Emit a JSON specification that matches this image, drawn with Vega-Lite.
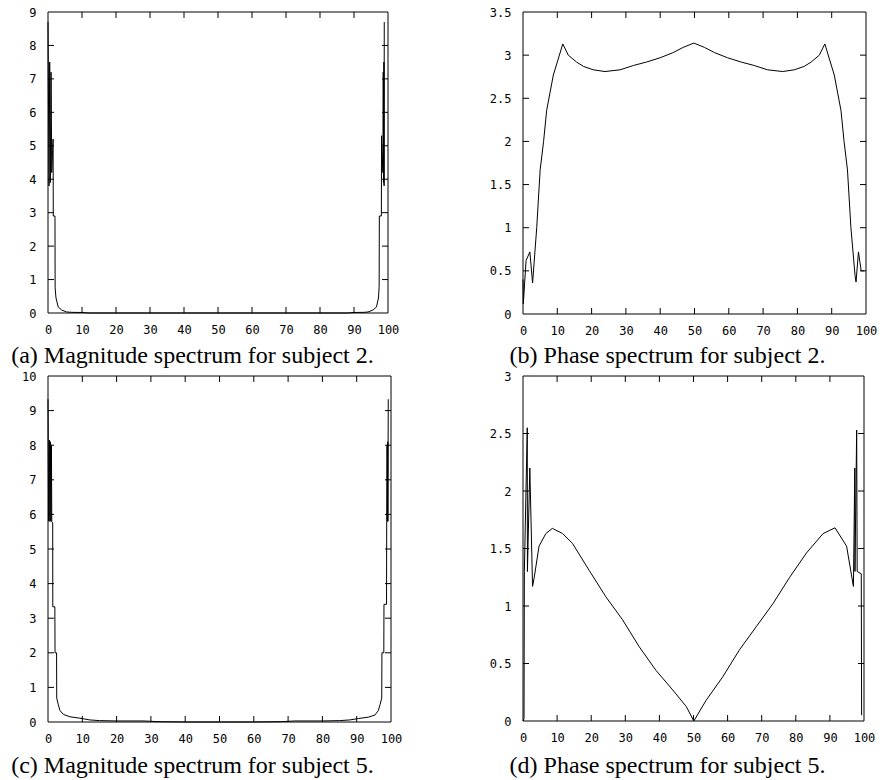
{
  "$schema": "https://vega.github.io/schema/vega-lite/v6.json",
  "autosize": {"type": "none"},
  "padding": {"left": 48, "top": 12, "right": 835, "bottom": 768},
  "background": "white",
  "columns": 2,
  "align": "each",
  "bounds": "flush",
  "spacing": {"row": 62, "column": 132},
  "datasets": {
    "a": [
      {"x": 0, "y": 8.7}, {"x": 0.3, "y": 3.8}, {"x": 0.5, "y": 7.5}, {"x": 0.7, "y": 3.9}, {"x": 0.9, "y": 7.2}, {"x": 1.1, "y": 4.2},
      {"x": 1.5, "y": 5.2}, {"x": 1.55, "y": 2.9}, {"x": 2.05, "y": 2.9}, {"x": 2.1, "y": 0.75}, {"x": 2.35, "y": 0.45}, {"x": 3.0, "y": 0.18},
      {"x": 4.0, "y": 0.09}, {"x": 5.5, "y": 0.03}, {"x": 7, "y": 0.02}, {"x": 10, "y": 0.015}, {"x": 12, "y": 0}, {"x": 20, "y": 0},
      {"x": 30, "y": 0}, {"x": 40, "y": 0}, {"x": 50, "y": 0}, {"x": 60, "y": 0}, {"x": 70, "y": 0}, {"x": 80, "y": 0}, {"x": 88, "y": 0},
      {"x": 90, "y": 0.015}, {"x": 93, "y": 0.02}, {"x": 94.1, "y": 0.03}, {"x": 95.6, "y": 0.09}, {"x": 96.6, "y": 0.18}, {"x": 97.2, "y": 0.45},
      {"x": 97.4, "y": 0.8}, {"x": 97.45, "y": 2.9}, {"x": 98.05, "y": 2.9}, {"x": 98.1, "y": 5.3}, {"x": 98.5, "y": 4.2}, {"x": 98.6, "y": 7.2},
      {"x": 98.7, "y": 3.9}, {"x": 98.8, "y": 7.5}, {"x": 98.85, "y": 3.8}, {"x": 98.9, "y": 8.7}
    ],
    "b": [
      {"x": 0, "y": 0.4}, {"x": 0.1, "y": 0.12}, {"x": 0.9, "y": 0.62}, {"x": 2.0, "y": 0.72}, {"x": 2.8, "y": 0.36}, {"x": 4.0, "y": 1.0},
      {"x": 5.0, "y": 1.67}, {"x": 6.0, "y": 2.0}, {"x": 6.9, "y": 2.36}, {"x": 8.85, "y": 2.77}, {"x": 11.6, "y": 3.13}, {"x": 13.2, "y": 3.0},
      {"x": 15.6, "y": 2.92}, {"x": 17.6, "y": 2.87}, {"x": 20.5, "y": 2.83}, {"x": 23.9, "y": 2.81}, {"x": 28.3, "y": 2.83}, {"x": 32.2, "y": 2.88},
      {"x": 36, "y": 2.92}, {"x": 40, "y": 2.97}, {"x": 43.8, "y": 3.03}, {"x": 46.7, "y": 3.09}, {"x": 49.8, "y": 3.14},
      {"x": 52.9, "y": 3.09}, {"x": 55.8, "y": 3.03}, {"x": 59.6, "y": 2.97}, {"x": 63.6, "y": 2.92}, {"x": 67.4, "y": 2.88}, {"x": 71.3, "y": 2.83},
      {"x": 75.7, "y": 2.81}, {"x": 79.1, "y": 2.83}, {"x": 82, "y": 2.87}, {"x": 84, "y": 2.92}, {"x": 86.4, "y": 3.0}, {"x": 88, "y": 3.13},
      {"x": 90.75, "y": 2.77}, {"x": 92.7, "y": 2.36}, {"x": 93.6, "y": 2.0}, {"x": 94.6, "y": 1.67}, {"x": 95.6, "y": 1.0}, {"x": 96.8, "y": 0.45},
      {"x": 97.1, "y": 0.37}, {"x": 97.8, "y": 0.72}, {"x": 98.6, "y": 0.5}, {"x": 99.5, "y": 0.5}
    ],
    "c": [
      {"x": 0, "y": 9.33}, {"x": 0.2, "y": 5.8}, {"x": 0.4, "y": 8.15}, {"x": 0.55, "y": 5.8}, {"x": 0.7, "y": 8.1}, {"x": 0.85, "y": 5.8},
      {"x": 1.0, "y": 8.0}, {"x": 1.1, "y": 5.79}, {"x": 1.37, "y": 5.75}, {"x": 1.4, "y": 3.33}, {"x": 2.0, "y": 3.33}, {"x": 2.05, "y": 2.0},
      {"x": 2.5, "y": 2.0}, {"x": 2.55, "y": 0.69}, {"x": 3.0, "y": 0.5}, {"x": 3.5, "y": 0.33}, {"x": 4.5, "y": 0.22}, {"x": 6.4, "y": 0.15},
      {"x": 9.3, "y": 0.11}, {"x": 12.2, "y": 0.06}, {"x": 15, "y": 0.04}, {"x": 20, "y": 0.03}, {"x": 28, "y": 0.03}, {"x": 32, "y": 0.01},
      {"x": 40, "y": 0}, {"x": 50, "y": 0}, {"x": 60, "y": 0}, {"x": 68, "y": 0.01}, {"x": 72, "y": 0.03}, {"x": 80, "y": 0.03},
      {"x": 85, "y": 0.04}, {"x": 88, "y": 0.06}, {"x": 90.5, "y": 0.1}, {"x": 93.4, "y": 0.14}, {"x": 95.3, "y": 0.2}, {"x": 96.3, "y": 0.33},
      {"x": 96.8, "y": 0.5}, {"x": 97.3, "y": 0.69}, {"x": 97.35, "y": 2.0}, {"x": 97.9, "y": 2.0}, {"x": 97.95, "y": 3.4}, {"x": 98.7, "y": 3.4},
      {"x": 98.75, "y": 5.8}, {"x": 98.85, "y": 8.0}, {"x": 98.95, "y": 5.8}, {"x": 99.05, "y": 8.1}, {"x": 99.1, "y": 5.8}, {"x": 99.2, "y": 9.33}
    ],
    "d": [
      {"x": 0, "y": 0}, {"x": 0.3, "y": 0.02}, {"x": 0.4, "y": 1.3}, {"x": 1.25, "y": 2.55}, {"x": 1.3, "y": 1.3}, {"x": 2.0, "y": 2.2},
      {"x": 2.8, "y": 1.17}, {"x": 3.3, "y": 1.25}, {"x": 4.7, "y": 1.52}, {"x": 6.7, "y": 1.63}, {"x": 8.6, "y": 1.675}, {"x": 11.6, "y": 1.63},
      {"x": 14.5, "y": 1.545}, {"x": 19.4, "y": 1.31}, {"x": 24.3, "y": 1.08}, {"x": 29.2, "y": 0.88}, {"x": 34.1, "y": 0.645}, {"x": 39, "y": 0.44},
      {"x": 43.9, "y": 0.27}, {"x": 47.9, "y": 0.125}, {"x": 50.1, "y": 0}, {"x": 53.7, "y": 0.18}, {"x": 58.6, "y": 0.385}, {"x": 63.5, "y": 0.62},
      {"x": 68.4, "y": 0.82}, {"x": 73.3, "y": 1.02}, {"x": 78.2, "y": 1.25}, {"x": 83.1, "y": 1.46}, {"x": 88, "y": 1.63}, {"x": 91.5, "y": 1.68},
      {"x": 94.9, "y": 1.52}, {"x": 96.9, "y": 1.17}, {"x": 97.3, "y": 2.2}, {"x": 97.35, "y": 1.3}, {"x": 97.85, "y": 2.53}, {"x": 98.0, "y": 1.3},
      {"x": 99.2, "y": 1.28}, {"x": 99.3, "y": 0.05}
    ],
    "fa": [
      {"g": 0, "x": 0, "y": 0}, {"g": 0, "x": 100, "y": 0}, {"g": 1, "x": 0, "y": 9}, {"g": 1, "x": 100, "y": 9},
      {"g": 2, "x": 0, "y": 0}, {"g": 2, "x": 0, "y": 9}, {"g": 3, "x": 100, "y": 0}, {"g": 3, "x": 100, "y": 9},
      {"g": 4, "x": 10, "y": 0}, {"g": 4, "x": 10, "y": 0.18}, {"g": 5, "x": 20, "y": 0}, {"g": 5, "x": 20, "y": 0.18},
      {"g": 6, "x": 30, "y": 0}, {"g": 6, "x": 30, "y": 0.18}, {"g": 7, "x": 40, "y": 0}, {"g": 7, "x": 40, "y": 0.18},
      {"g": 8, "x": 50, "y": 0}, {"g": 8, "x": 50, "y": 0.18}, {"g": 9, "x": 60, "y": 0}, {"g": 9, "x": 60, "y": 0.18},
      {"g": 10, "x": 70, "y": 0}, {"g": 10, "x": 70, "y": 0.18}, {"g": 11, "x": 80, "y": 0}, {"g": 11, "x": 80, "y": 0.18},
      {"g": 12, "x": 90, "y": 0}, {"g": 12, "x": 90, "y": 0.18},
      {"g": 13, "x": 10, "y": 9}, {"g": 13, "x": 10, "y": 8.82}, {"g": 14, "x": 20, "y": 9}, {"g": 14, "x": 20, "y": 8.82},
      {"g": 15, "x": 30, "y": 9}, {"g": 15, "x": 30, "y": 8.82}, {"g": 16, "x": 40, "y": 9}, {"g": 16, "x": 40, "y": 8.82},
      {"g": 17, "x": 50, "y": 9}, {"g": 17, "x": 50, "y": 8.82}, {"g": 18, "x": 60, "y": 9}, {"g": 18, "x": 60, "y": 8.82},
      {"g": 19, "x": 70, "y": 9}, {"g": 19, "x": 70, "y": 8.82}, {"g": 20, "x": 80, "y": 9}, {"g": 20, "x": 80, "y": 8.82},
      {"g": 21, "x": 90, "y": 9}, {"g": 21, "x": 90, "y": 8.82},
      {"g": 22, "x": 0, "y": 1}, {"g": 22, "x": 1.76, "y": 1}, {"g": 23, "x": 0, "y": 2}, {"g": 23, "x": 1.76, "y": 2},
      {"g": 24, "x": 0, "y": 3}, {"g": 24, "x": 1.76, "y": 3}, {"g": 25, "x": 0, "y": 4}, {"g": 25, "x": 1.76, "y": 4},
      {"g": 26, "x": 0, "y": 5}, {"g": 26, "x": 1.76, "y": 5}, {"g": 27, "x": 0, "y": 6}, {"g": 27, "x": 1.76, "y": 6},
      {"g": 28, "x": 0, "y": 7}, {"g": 28, "x": 1.76, "y": 7}, {"g": 29, "x": 0, "y": 8}, {"g": 29, "x": 1.76, "y": 8},
      {"g": 30, "x": 100, "y": 1}, {"g": 30, "x": 98.24, "y": 1}, {"g": 31, "x": 100, "y": 2}, {"g": 31, "x": 98.24, "y": 2},
      {"g": 32, "x": 100, "y": 3}, {"g": 32, "x": 98.24, "y": 3}, {"g": 33, "x": 100, "y": 4}, {"g": 33, "x": 98.24, "y": 4},
      {"g": 34, "x": 100, "y": 5}, {"g": 34, "x": 98.24, "y": 5}, {"g": 35, "x": 100, "y": 6}, {"g": 35, "x": 98.24, "y": 6},
      {"g": 36, "x": 100, "y": 7}, {"g": 36, "x": 98.24, "y": 7}, {"g": 37, "x": 100, "y": 8}, {"g": 37, "x": 98.24, "y": 8}
    ],
    "fb": [
      {"g": 0, "x": 0, "y": 0}, {"g": 0, "x": 100, "y": 0}, {"g": 1, "x": 0, "y": 3.5}, {"g": 1, "x": 100, "y": 3.5},
      {"g": 2, "x": 0, "y": 0}, {"g": 2, "x": 0, "y": 3.5}, {"g": 3, "x": 100, "y": 0}, {"g": 3, "x": 100, "y": 3.5},
      {"g": 4, "x": 10, "y": 0}, {"g": 4, "x": 10, "y": 0.07}, {"g": 5, "x": 20, "y": 0}, {"g": 5, "x": 20, "y": 0.07},
      {"g": 6, "x": 30, "y": 0}, {"g": 6, "x": 30, "y": 0.07}, {"g": 7, "x": 40, "y": 0}, {"g": 7, "x": 40, "y": 0.07},
      {"g": 8, "x": 50, "y": 0}, {"g": 8, "x": 50, "y": 0.07}, {"g": 9, "x": 60, "y": 0}, {"g": 9, "x": 60, "y": 0.07},
      {"g": 10, "x": 70, "y": 0}, {"g": 10, "x": 70, "y": 0.07}, {"g": 11, "x": 80, "y": 0}, {"g": 11, "x": 80, "y": 0.07},
      {"g": 12, "x": 90, "y": 0}, {"g": 12, "x": 90, "y": 0.07},
      {"g": 13, "x": 10, "y": 3.5}, {"g": 13, "x": 10, "y": 3.43}, {"g": 14, "x": 20, "y": 3.5}, {"g": 14, "x": 20, "y": 3.43},
      {"g": 15, "x": 30, "y": 3.5}, {"g": 15, "x": 30, "y": 3.43}, {"g": 16, "x": 40, "y": 3.5}, {"g": 16, "x": 40, "y": 3.43},
      {"g": 17, "x": 50, "y": 3.5}, {"g": 17, "x": 50, "y": 3.43}, {"g": 18, "x": 60, "y": 3.5}, {"g": 18, "x": 60, "y": 3.43},
      {"g": 19, "x": 70, "y": 3.5}, {"g": 19, "x": 70, "y": 3.43}, {"g": 20, "x": 80, "y": 3.5}, {"g": 20, "x": 80, "y": 3.43},
      {"g": 21, "x": 90, "y": 3.5}, {"g": 21, "x": 90, "y": 3.43},
      {"g": 22, "x": 0, "y": 0.5}, {"g": 22, "x": 1.75, "y": 0.5}, {"g": 23, "x": 0, "y": 1}, {"g": 23, "x": 1.75, "y": 1},
      {"g": 24, "x": 0, "y": 1.5}, {"g": 24, "x": 1.75, "y": 1.5}, {"g": 25, "x": 0, "y": 2}, {"g": 25, "x": 1.75, "y": 2},
      {"g": 26, "x": 0, "y": 2.5}, {"g": 26, "x": 1.75, "y": 2.5}, {"g": 27, "x": 0, "y": 3}, {"g": 27, "x": 1.75, "y": 3},
      {"g": 28, "x": 100, "y": 0.5}, {"g": 28, "x": 98.25, "y": 0.5}, {"g": 29, "x": 100, "y": 1}, {"g": 29, "x": 98.25, "y": 1},
      {"g": 30, "x": 100, "y": 1.5}, {"g": 30, "x": 98.25, "y": 1.5}, {"g": 31, "x": 100, "y": 2}, {"g": 31, "x": 98.25, "y": 2},
      {"g": 32, "x": 100, "y": 2.5}, {"g": 32, "x": 98.25, "y": 2.5}, {"g": 33, "x": 100, "y": 3}, {"g": 33, "x": 98.25, "y": 3}
    ],
    "fc": [
      {"g": 0, "x": 0, "y": 0}, {"g": 0, "x": 100, "y": 0}, {"g": 1, "x": 0, "y": 10}, {"g": 1, "x": 100, "y": 10},
      {"g": 2, "x": 0, "y": 0}, {"g": 2, "x": 0, "y": 10}, {"g": 3, "x": 100, "y": 0}, {"g": 3, "x": 100, "y": 10},
      {"g": 4, "x": 10, "y": 0}, {"g": 4, "x": 10, "y": 0.173}, {"g": 5, "x": 20, "y": 0}, {"g": 5, "x": 20, "y": 0.173},
      {"g": 6, "x": 30, "y": 0}, {"g": 6, "x": 30, "y": 0.173}, {"g": 7, "x": 40, "y": 0}, {"g": 7, "x": 40, "y": 0.173},
      {"g": 8, "x": 50, "y": 0}, {"g": 8, "x": 50, "y": 0.173}, {"g": 9, "x": 60, "y": 0}, {"g": 9, "x": 60, "y": 0.173},
      {"g": 10, "x": 70, "y": 0}, {"g": 10, "x": 70, "y": 0.173}, {"g": 11, "x": 80, "y": 0}, {"g": 11, "x": 80, "y": 0.173},
      {"g": 12, "x": 90, "y": 0}, {"g": 12, "x": 90, "y": 0.173},
      {"g": 13, "x": 10, "y": 10}, {"g": 13, "x": 10, "y": 9.827}, {"g": 14, "x": 20, "y": 10}, {"g": 14, "x": 20, "y": 9.827},
      {"g": 15, "x": 30, "y": 10}, {"g": 15, "x": 30, "y": 9.827}, {"g": 16, "x": 40, "y": 10}, {"g": 16, "x": 40, "y": 9.827},
      {"g": 17, "x": 50, "y": 10}, {"g": 17, "x": 50, "y": 9.827}, {"g": 18, "x": 60, "y": 10}, {"g": 18, "x": 60, "y": 9.827},
      {"g": 19, "x": 70, "y": 10}, {"g": 19, "x": 70, "y": 9.827}, {"g": 20, "x": 80, "y": 10}, {"g": 20, "x": 80, "y": 9.827},
      {"g": 21, "x": 90, "y": 10}, {"g": 21, "x": 90, "y": 9.827},
      {"g": 22, "x": 0, "y": 1}, {"g": 22, "x": 1.75, "y": 1}, {"g": 23, "x": 0, "y": 2}, {"g": 23, "x": 1.75, "y": 2},
      {"g": 24, "x": 0, "y": 3}, {"g": 24, "x": 1.75, "y": 3}, {"g": 25, "x": 0, "y": 4}, {"g": 25, "x": 1.75, "y": 4},
      {"g": 26, "x": 0, "y": 5}, {"g": 26, "x": 1.75, "y": 5}, {"g": 27, "x": 0, "y": 6}, {"g": 27, "x": 1.75, "y": 6},
      {"g": 28, "x": 0, "y": 7}, {"g": 28, "x": 1.75, "y": 7}, {"g": 29, "x": 0, "y": 8}, {"g": 29, "x": 1.75, "y": 8},
      {"g": 30, "x": 0, "y": 9}, {"g": 30, "x": 1.75, "y": 9},
      {"g": 31, "x": 100, "y": 1}, {"g": 31, "x": 98.25, "y": 1}, {"g": 32, "x": 100, "y": 2}, {"g": 32, "x": 98.25, "y": 2},
      {"g": 33, "x": 100, "y": 3}, {"g": 33, "x": 98.25, "y": 3}, {"g": 34, "x": 100, "y": 4}, {"g": 34, "x": 98.25, "y": 4},
      {"g": 35, "x": 100, "y": 5}, {"g": 35, "x": 98.25, "y": 5}, {"g": 36, "x": 100, "y": 6}, {"g": 36, "x": 98.25, "y": 6},
      {"g": 37, "x": 100, "y": 7}, {"g": 37, "x": 98.25, "y": 7}, {"g": 38, "x": 100, "y": 8}, {"g": 38, "x": 98.25, "y": 8},
      {"g": 39, "x": 100, "y": 9}, {"g": 39, "x": 98.25, "y": 9}
    ],
    "fd": [
      {"g": 0, "x": 0, "y": 0}, {"g": 0, "x": 100, "y": 0}, {"g": 1, "x": 0, "y": 3}, {"g": 1, "x": 100, "y": 3},
      {"g": 2, "x": 0, "y": 0}, {"g": 2, "x": 0, "y": 3}, {"g": 3, "x": 100, "y": 0}, {"g": 3, "x": 100, "y": 3},
      {"g": 4, "x": 10, "y": 0}, {"g": 4, "x": 10, "y": 0.052}, {"g": 5, "x": 20, "y": 0}, {"g": 5, "x": 20, "y": 0.052},
      {"g": 6, "x": 30, "y": 0}, {"g": 6, "x": 30, "y": 0.052}, {"g": 7, "x": 40, "y": 0}, {"g": 7, "x": 40, "y": 0.052},
      {"g": 8, "x": 50, "y": 0}, {"g": 8, "x": 50, "y": 0.052}, {"g": 9, "x": 60, "y": 0}, {"g": 9, "x": 60, "y": 0.052},
      {"g": 10, "x": 70, "y": 0}, {"g": 10, "x": 70, "y": 0.052}, {"g": 11, "x": 80, "y": 0}, {"g": 11, "x": 80, "y": 0.052},
      {"g": 12, "x": 90, "y": 0}, {"g": 12, "x": 90, "y": 0.052},
      {"g": 13, "x": 10, "y": 3}, {"g": 13, "x": 10, "y": 2.948}, {"g": 14, "x": 20, "y": 3}, {"g": 14, "x": 20, "y": 2.948},
      {"g": 15, "x": 30, "y": 3}, {"g": 15, "x": 30, "y": 2.948}, {"g": 16, "x": 40, "y": 3}, {"g": 16, "x": 40, "y": 2.948},
      {"g": 17, "x": 50, "y": 3}, {"g": 17, "x": 50, "y": 2.948}, {"g": 18, "x": 60, "y": 3}, {"g": 18, "x": 60, "y": 2.948},
      {"g": 19, "x": 70, "y": 3}, {"g": 19, "x": 70, "y": 2.948}, {"g": 20, "x": 80, "y": 3}, {"g": 20, "x": 80, "y": 2.948},
      {"g": 21, "x": 90, "y": 3}, {"g": 21, "x": 90, "y": 2.948},
      {"g": 22, "x": 0, "y": 0.5}, {"g": 22, "x": 1.76, "y": 0.5}, {"g": 23, "x": 0, "y": 1}, {"g": 23, "x": 1.76, "y": 1},
      {"g": 24, "x": 0, "y": 1.5}, {"g": 24, "x": 1.76, "y": 1.5}, {"g": 25, "x": 0, "y": 2}, {"g": 25, "x": 1.76, "y": 2},
      {"g": 26, "x": 0, "y": 2.5}, {"g": 26, "x": 1.76, "y": 2.5},
      {"g": 27, "x": 100, "y": 0.5}, {"g": 27, "x": 98.24, "y": 0.5}, {"g": 28, "x": 100, "y": 1}, {"g": 28, "x": 98.24, "y": 1},
      {"g": 29, "x": 100, "y": 1.5}, {"g": 29, "x": 98.24, "y": 1.5}, {"g": 30, "x": 100, "y": 2}, {"g": 30, "x": 98.24, "y": 2},
      {"g": 31, "x": 100, "y": 2.5}, {"g": 31, "x": 98.24, "y": 2.5}
    ]
  },
  "concat": [
    {
      "width": 340, "height": 301,
      "layer": [
        {"data": {"name": "a"}, "mark": {"type": "line", "color": "#000", "strokeWidth": 1},
         "encoding": {
           "x": {"field": "x", "type": "quantitative", "scale": {"domain": [0, 100], "nice": false, "zero": false},
                 "axis": {"orient": "bottom", "values": [0,10,20,30,40,50,60,70,80,90,100], "title": "(a) Magnitude spectrum for subject 2.", "titleX": 144, "titleY": 49}},
           "y": {"field": "y", "type": "quantitative", "scale": {"domain": [0, 9], "nice": false},
                 "axis": {"orient": "left", "values": [0,1,2,3,4,5,6,7,8,9], "title": null}}
         }},
        {"data": {"name": "fa"}, "mark": {"type": "line", "color": "#000", "strokeWidth": 1},
         "encoding": {"x": {"field": "x", "type": "quantitative", "axis": null}, "y": {"field": "y", "type": "quantitative", "axis": null}, "detail": {"field": "g", "type": "nominal"}}}
      ],
      "resolve": {"axis": {"x": "independent", "y": "independent"}}
    },
    {
      "width": 343, "height": 302,
      "layer": [
        {"data": {"name": "b"}, "mark": {"type": "line", "color": "#000", "strokeWidth": 1},
         "encoding": {
           "x": {"field": "x", "type": "quantitative", "scale": {"domain": [0, 100], "nice": false, "zero": false},
                 "axis": {"orient": "bottom", "values": [0,10,20,30,40,50,60,70,80,90,100], "title": "(b) Phase spectrum for subject 2.", "titleX": 144, "titleY": 48}},
           "y": {"field": "y", "type": "quantitative", "scale": {"domain": [0, 3.5], "nice": false},
                 "axis": {"orient": "left", "values": [0,0.5,1,1.5,2,2.5,3,3.5], "title": null}}
         }},
        {"data": {"name": "fb"}, "mark": {"type": "line", "color": "#000", "strokeWidth": 1},
         "encoding": {"x": {"field": "x", "type": "quantitative", "axis": null}, "y": {"field": "y", "type": "quantitative", "axis": null}, "detail": {"field": "g", "type": "nominal"}}}
      ],
      "resolve": {"axis": {"x": "independent", "y": "independent"}}
    },
    {
      "width": 343, "height": 346,
      "layer": [
        {"data": {"name": "c"}, "mark": {"type": "line", "color": "#000", "strokeWidth": 1},
         "encoding": {
           "x": {"field": "x", "type": "quantitative", "scale": {"domain": [0, 100], "nice": false, "zero": false},
                 "axis": {"orient": "bottom", "values": [0,10,20,30,40,50,60,70,80,90,100], "title": "(c) Magnitude spectrum for subject 5.", "titleX": 144, "titleY": 50}},
           "y": {"field": "y", "type": "quantitative", "scale": {"domain": [0, 10], "nice": false},
                 "axis": {"orient": "left", "values": [0,1,2,3,4,5,6,7,8,9,10], "title": null}}
         }},
        {"data": {"name": "fc"}, "mark": {"type": "line", "color": "#000", "strokeWidth": 1},
         "encoding": {"x": {"field": "x", "type": "quantitative", "axis": null}, "y": {"field": "y", "type": "quantitative", "axis": null}, "detail": {"field": "g", "type": "nominal"}}}
      ],
      "resolve": {"axis": {"x": "independent", "y": "independent"}}
    },
    {
      "width": 341, "height": 345,
      "layer": [
        {"data": {"name": "d"}, "mark": {"type": "line", "color": "#000", "strokeWidth": 1},
         "encoding": {
           "x": {"field": "x", "type": "quantitative", "scale": {"domain": [0, 100], "nice": false, "zero": false},
                 "axis": {"orient": "bottom", "values": [0,10,20,30,40,50,60,70,80,90,100], "title": "(d) Phase spectrum for subject 5.", "titleX": 144, "titleY": 51}},
           "y": {"field": "y", "type": "quantitative", "scale": {"domain": [0, 3], "nice": false},
                 "axis": {"orient": "left", "values": [0,0.5,1,1.5,2,2.5,3], "title": null}}
         }},
        {"data": {"name": "fd"}, "mark": {"type": "line", "color": "#000", "strokeWidth": 1},
         "encoding": {"x": {"field": "x", "type": "quantitative", "axis": null}, "y": {"field": "y", "type": "quantitative", "axis": null}, "detail": {"field": "g", "type": "nominal"}}}
      ],
      "resolve": {"axis": {"x": "independent", "y": "independent"}}
    }
  ],
  "config": {
    "view": {"stroke": null},
    "axis": {
      "grid": false,
      "domain": false,
      "ticks": false,
      "format": "~r",
      "labelColor": "#000",
      "labelFont": "DejaVu Sans Mono",
      "labelFontSize": 12,
      "labelFlush": false,
      "labelOverlap": false,
      "labelBound": false,
      "titleFont": "Liberation Serif",
      "titleFontSize": 24,
      "titleFontWeight": "normal",
      "titleColor": "#000",
      "titleAlign": "center",
      "titleBaseline": "alphabetic"
    },
    "axisX": {"labelPadding": 11},
    "axisY": {"labelPadding": 12}
  }
}
